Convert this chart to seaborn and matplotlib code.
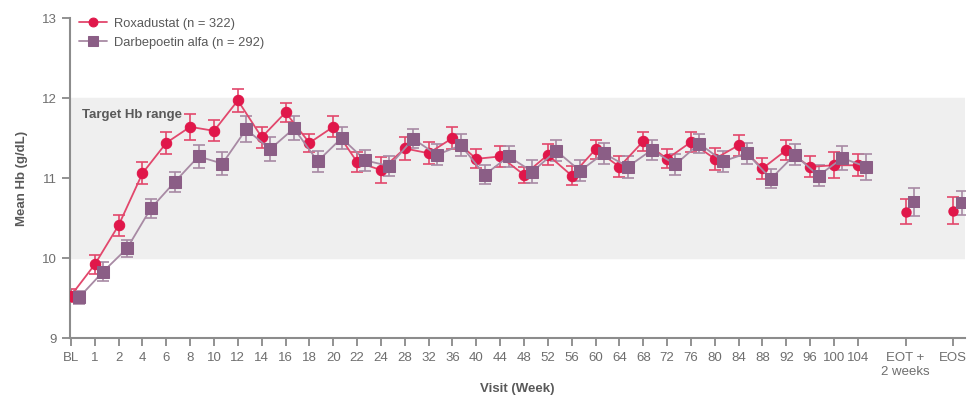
import numpy as np
import pandas as pd
import matplotlib
matplotlib.use("Agg")
import matplotlib.pyplot as plt
import seaborn as sns

# visits on the x axis (categorical, with gaps before EOT and EOS)
visits = ["BL", "1", "2", "4", "6", "8", "10", "12", "14", "16", "18", "20", "22", "24",
          "28", "32", "36", "40", "44", "48", "52", "56", "60", "64", "68", "72", "76",
          "80", "84", "88", "92", "96", "100", "104", "EOT +\n2 weeks", "EOS"]
visit_pos = list(range(34)) + [35, 37]

roxa_mean = [9.53, 9.92, 10.41, 11.06, 11.44, 11.64, 11.59, 11.97, 11.51, 11.82, 11.44,
             11.64, 11.20, 11.10, 11.37, 11.31, 11.50, 11.24, 11.27, 11.04, 11.29, 11.03,
             11.36, 11.14, 11.46, 11.24, 11.45, 11.24, 11.41, 11.12, 11.35, 11.14, 11.16,
             11.16, 10.58, 10.59]
roxa_err = [0.08, 0.12, 0.13, 0.14, 0.14, 0.16, 0.13, 0.14, 0.13, 0.12, 0.11, 0.13,
            0.12, 0.16, 0.14, 0.14, 0.14, 0.12, 0.13, 0.10, 0.13, 0.12, 0.12, 0.13,
            0.12, 0.12, 0.12, 0.14, 0.13, 0.13, 0.13, 0.13, 0.16, 0.14, 0.16, 0.17]

darb_mean = [9.51, 9.83, 10.12, 10.62, 10.95, 11.27, 11.18, 11.61, 11.36, 11.62, 11.21,
             11.50, 11.22, 11.15, 11.49, 11.29, 11.41, 11.04, 11.27, 11.08, 11.34, 11.09,
             11.31, 11.14, 11.35, 11.17, 11.43, 11.21, 11.31, 10.99, 11.29, 11.03, 11.25,
             11.14, 10.70, 10.69]
darb_err = [0.08, 0.12, 0.11, 0.12, 0.12, 0.14, 0.14, 0.16, 0.15, 0.15, 0.13, 0.14,
            0.13, 0.13, 0.12, 0.13, 0.14, 0.12, 0.13, 0.14, 0.13, 0.13, 0.13, 0.14,
            0.12, 0.13, 0.12, 0.13, 0.13, 0.12, 0.13, 0.13, 0.15, 0.16, 0.17, 0.15]

n_connected = 34  # BL..104 joined by a line; EOT / EOS stand alone

sns.set_style("ticks")
plt.rcParams['font.family'] = ['Liberation Sans', 'DejaVu Sans']

grey = "#595959"
red = "#E0174A"
red_line = "#E2476C"
purple = "#8B5E86"
purple_line = "#A88AA4"

fig = plt.figure(figsize=(9.72, 4.01), dpi=100)
ax = fig.add_axes([0.072, 0.157, 0.921, 0.798])

# target Hb band
ax.axhspan(10, 12, color="#EFEFEF", zorder=0)
ax.text(0.45, 11.79, "Target Hb range", fontsize=9.5, fontweight="bold",
        color=grey, va="center", ha="left")

series = [
    ("Roxadustat (n = 322)", roxa_mean, roxa_err, 0.0, "o", 7.5, red, red_line),
    ("Darbepoetin alfa (n = 292)", darb_mean, darb_err, 0.35, "s", 8.5, purple, purple_line),
]

for label, mean, err, off, mk, ms, col, lcol in series:
    df = pd.DataFrame({"x": np.array(visit_pos) + off, "y": mean, "e": err})
    main = df.iloc[:n_connected]
    tail = df.iloc[n_connected:]
    ax.errorbar(df["x"], df["y"], yerr=df["e"], fmt="none", ecolor=lcol,
                elinewidth=1.2, capsize=4, capthick=1.2, zorder=2)
    sns.lineplot(data=main, x="x", y="y", ax=ax, color=lcol, linewidth=1.3,
                 marker=mk, markersize=ms, markerfacecolor=col, markeredgecolor=col,
                 label=label, zorder=3, sort=False)
    sns.scatterplot(data=tail, x="x", y="y", ax=ax, color=col, marker=mk,
                    s=ms ** 2, edgecolor=col, linewidth=0, zorder=3, legend=False)

ax.set_xlim(-0.04, 37.5)
ax.set_ylim(9, 13)
ax.set_yticks([9, 10, 11, 12, 13])
ax.set_xticks(visit_pos)
ax.set_xticklabels(visits)

ax.set_xlabel("Visit (Week)", fontsize=9.5, fontweight="bold", color=grey)
ax.set_ylabel("Mean Hb (g/dL)", fontsize=9.5, fontweight="bold", color=grey, labelpad=10)

ax.tick_params(axis="both", colors="#7F7F7F", labelcolor="#6E6E6E", labelsize=9.5,
               length=6, width=1.2)
ax.tick_params(axis="x", pad=4)
for s in ["left", "bottom"]:
    ax.spines[s].set_color("#8C8C8C")
    ax.spines[s].set_linewidth(1.5)
sns.despine(ax=ax)

leg = ax.legend(loc="upper left", bbox_to_anchor=(0.0, 1.03), frameon=False,
                fontsize=9.3, handlelength=2.2, handletextpad=0.5, labelspacing=0.55,
                borderaxespad=0.3, markerscale=0.85)
for t in leg.get_texts():
    t.set_color(grey)

fig.savefig("out.png", dpi=100)
